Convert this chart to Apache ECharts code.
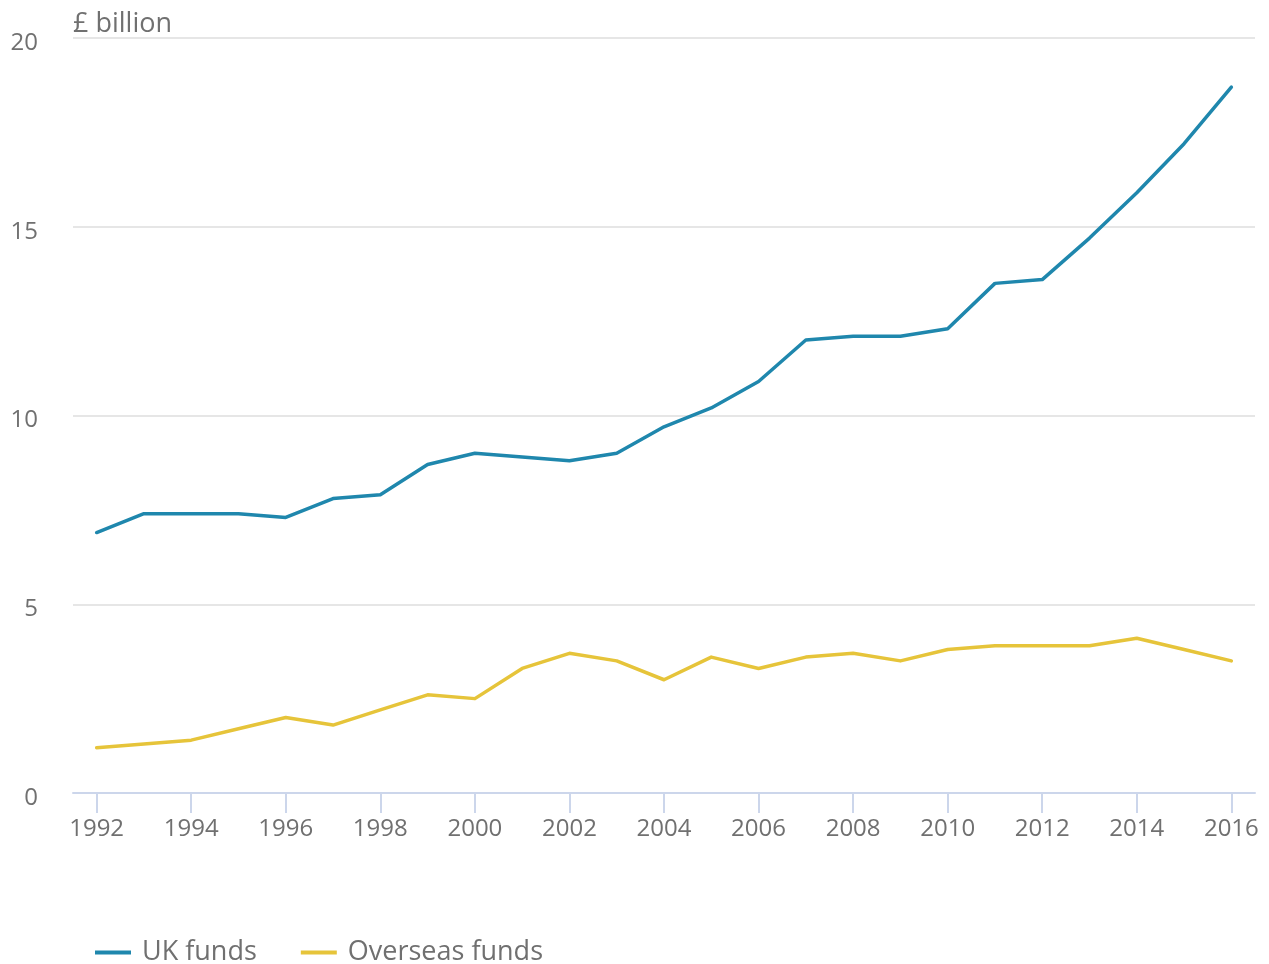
<!DOCTYPE html>
<html>
<head>
<meta charset="utf-8">
<script src="https://cdn.jsdelivr.net/npm/echarts@6/dist/echarts.min.js"></script>
<style>
  html, body { margin: 0; padding: 0; background: #fff; }
  #chart { width: 1269px; height: 964px; }
</style>
</head>
<body>
<div id="chart"></div>
<script>
const years = ['1992', '1993', '1994', '1995', '1996', '1997', '1998', '1999', '2000', '2001', '2002', '2003',
  '2004', '2005', '2006', '2007', '2008', '2009', '2010', '2011', '2012', '2013', '2014', '2015', '2016']
const ukFunds = [6.9, 7.4, 7.4, 7.4, 7.3, 7.8, 7.9, 8.7, 9.0, 8.9, 8.8, 9.0,
  9.7, 10.2, 10.9, 12.0, 12.1, 12.1, 12.3, 13.5, 13.6, 14.7, 15.9, 17.2, 18.7]
const overseasFunds = [1.2, 1.3, 1.4, 1.7, 2.0, 1.8, 2.2, 2.6, 2.5, 3.3, 3.7, 3.5,
  3.0, 3.6, 3.3, 3.6, 3.7, 3.5, 3.8, 3.9, 3.9, 3.9, 4.1, 3.8, 3.5]

const font = '"Open Sans", "Noto Sans", sans-serif'
const textColor = '#707070'

const chart = echarts.init(document.getElementById('chart'))
chart.setOption({
  animation: false,
  textStyle: { fontFamily: font },
  title: {
    text: '£ billion',
    left: 68,
    top: 6,
    textStyle: { fontFamily: font, fontSize: 27, fontWeight: 'normal', color: textColor }
  },
  legend: {
    top: 934,
    left: 90,
    itemWidth: 36,
    itemHeight: 4,
    itemGap: 44,
    icon: 'rect',
    textStyle: { fontFamily: font, fontSize: 27, color: textColor, padding: [0, 0, 0, 6] },
    data: ['UK funds', 'Overseas funds']
  },
  grid: { left: 73, right: 14, top: 38, bottom: 171 },
  xAxis: {
    type: 'category',
    data: years,
    boundaryGap: true,
    axisLine: { show: true, lineStyle: { color: '#ccd6eb', width: 2 } },
    axisTick: { show: true, alignWithLabel: true, interval: 1, length: 20, lineStyle: { color: '#ccd6eb', width: 2 } },
    axisLabel: { interval: 1, color: textColor, fontSize: 24, fontFamily: font, margin: 24 }
  },
  yAxis: {
    type: 'value',
    min: 0,
    max: 20,
    interval: 5,
    axisLine: { show: false },
    axisTick: { show: false },
    splitLine: { lineStyle: { color: '#e6e6e6', width: 2 } },
    axisLabel: { color: textColor, fontSize: 24, fontFamily: font, margin: 35, verticalAlign: 'top', lineHeight: 10 }
  },
  series: [
    {
      name: 'UK funds',
      type: 'line',
      data: ukFunds,
      symbol: 'none',
      color: '#1f87ad',
      lineStyle: { width: 3.5, cap: 'round', join: 'round' }
    },
    {
      name: 'Overseas funds',
      type: 'line',
      data: overseasFunds,
      symbol: 'none',
      color: '#e6c43a',
      lineStyle: { width: 3.5, cap: 'round', join: 'round' }
    }
  ]
})
</script>
</body>
</html>
